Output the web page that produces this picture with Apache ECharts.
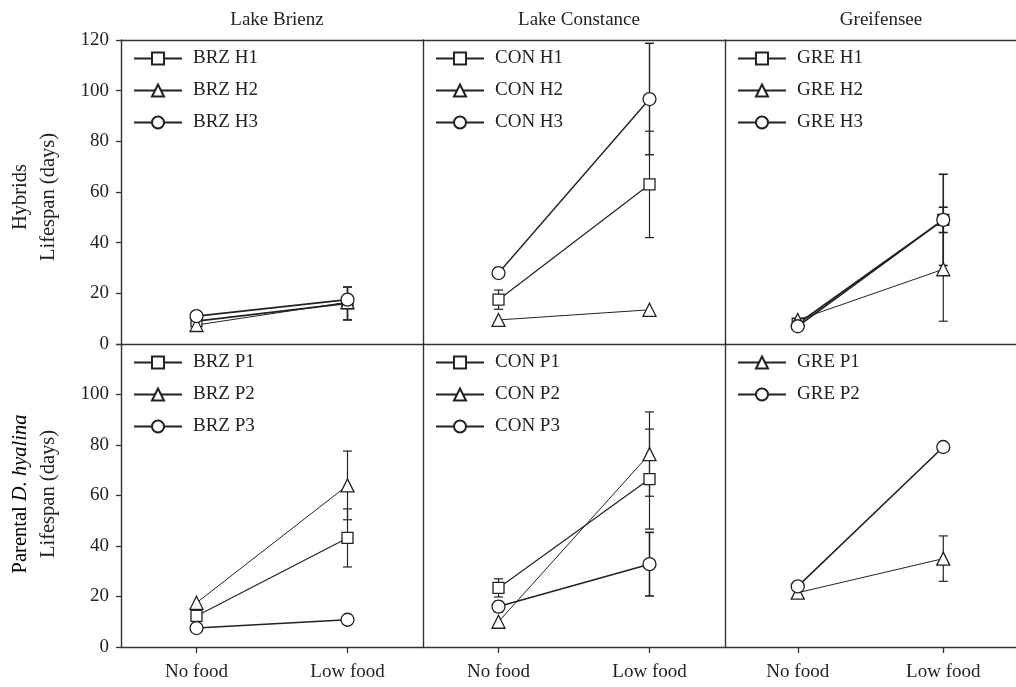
<!DOCTYPE html>
<html>
<head>
<meta charset="utf-8">
<script src="https://cdn.jsdelivr.net/npm/echarts@6/dist/echarts.min.js"></script>
<style>html,body{margin:0;padding:0;background:#fff;}#c{width:1016px;height:687px;}</style>
</head>
<body>
<div id="c"></div>
<script>
// ---- data ----
const categories = ['No food', 'Low food'];
const lakes = ['Lake Brienz', 'Lake Constance', 'Greifensee'];

// Hybrids (mean lifespan, days) and error (+/-)
const brzH1 = [9, 16],     brzH1Err = [1, 6.5];
const brzH2 = [7.5, 16.5], brzH2Err = [0, 0];
const brzH3 = [11, 17.5],  brzH3Err = [1, 0];
const conH1 = [17.5, 63],  conH1Err = [3.8, 21];
const conH2 = [9.5, 13.5], conH2Err = [0, 0];
const conH3 = [28, 96.7],  conH3Err = [2, 22];
const greH1 = [8, 49],     greH1Err = [0, 5];
const greH2 = [9.5, 29.5], greH2Err = [0, 20.5];
const greH3 = [7, 49],     greH3Err = [0, 18];
// Parental D. hyalina
const brzP1 = [12.3, 43.2], brzP1Err = [2, 11.5];
const brzP2 = [17.5, 64],   brzP2Err = [0, 13.6];
const brzP3 = [7.5, 10.8],  brzP3Err = [0, 0];
const conP1 = [23.4, 66.5], conP1Err = [3.6, 19.8];
const conP2 = [10, 76.4],   conP2Err = [0, 16.7];
const conP3 = [16, 32.8],   conP3Err = [2, 12.6];
const greP1 = [21.5, 35],   greP1Err = [0, 9];
const greP2 = [24, 79.2],   greP2Err = [0, 0];

// ---- panel composition ----
const panels = [
  [['BRZ H1', brzH1, brzH1Err, 'rect', 1.8], ['BRZ H2', brzH2, brzH2Err, 'triangle', 1], ['BRZ H3', brzH3, brzH3Err, 'circle', 1.8]],
  [['CON H1', conH1, conH1Err, 'rect', 1.2], ['CON H2', conH2, conH2Err, 'triangle', 1], ['CON H3', conH3, conH3Err, 'circle', 1.4]],
  [['GRE H1', greH1, greH1Err, 'rect', 1.6], ['GRE H2', greH2, greH2Err, 'triangle', 1], ['GRE H3', greH3, greH3Err, 'circle', 1.6]],
  [['BRZ P1', brzP1, brzP1Err, 'rect', 1.2], ['BRZ P2', brzP2, brzP2Err, 'triangle', 1], ['BRZ P3', brzP3, brzP3Err, 'circle', 1.6]],
  [['CON P1', conP1, conP1Err, 'rect', 1.2], ['CON P2', conP2, conP2Err, 'triangle', 1], ['CON P3', conP3, conP3Err, 'circle', 1.6]],
  [['GRE P1', greP1, greP1Err, 'triangle', 1], ['GRE P2', greP2, greP2Err, 'circle', 1.6]]
];

const FONT = 'Liberation Serif';
const INK = '#222';
const FRAME = { color: '#333', width: 1.4 };
const L0 = 121, W = 302;
const tops = [40, 344], heights = [304, 303];
const symSize = { rect: 11, triangle: 13, circle: 13 };

const grids = [], xAxes = [], yAxes = [], legends = [], series = [];

function errRender(lw) {
  return function (params, api) {
    const x = api.value(0), v = api.value(1), e = api.value(2);
    const p1 = api.coord([x, v + e]), p2 = api.coord([x, v - e]);
    const hw = 4.5;
    const st = { stroke: INK, lineWidth: lw };
    return { type: 'group', children: [
      { type: 'line', shape: { x1: p1[0], y1: p1[1], x2: p2[0], y2: p2[1] }, style: st },
      { type: 'line', shape: { x1: p1[0] - hw, y1: p1[1], x2: p1[0] + hw, y2: p1[1] }, style: st },
      { type: 'line', shape: { x1: p2[0] - hw, y1: p2[1], x2: p2[0] + hw, y2: p2[1] }, style: st }
    ]};
  };
}

for (let r = 0; r < 2; r++) {
  for (let c = 0; c < 3; c++) {
    const p = r * 3 + c;
    const left = L0 + W * c, top = tops[r];
    grids.push({ left: left, top: top, width: W, height: heights[r], show: false });
    xAxes.push({ type: 'category', gridIndex: p, data: categories, boundaryGap: true, position: 'bottom',
      axisLine: { show: true, onZero: false, lineStyle: FRAME },
      axisTick: { show: r === 1, alignWithLabel: true, length: 6, lineStyle: { color: '#333', width: 1.3 } },
      axisLabel: { show: r === 1, margin: 16, fontFamily: FONT, fontSize: 19, color: INK },
      splitLine: { show: false } });
    yAxes.push({ type: 'value', gridIndex: p, min: 0, max: 120, interval: 20, position: 'left',
      axisLine: { show: true, onZero: false, lineStyle: FRAME },
      axisTick: { show: c === 0, length: 5, lineStyle: { color: '#333', width: 1.3 } },
      axisLabel: { show: c === 0, margin: 12, fontFamily: FONT, fontSize: 19, color: INK,
        formatter: function (v) { return (r === 1 && v === 120) ? '' : String(v); } },
      splitLine: { show: false } });
    const defs = panels[p];
    legends.push({ orient: 'vertical', left: left + 12, top: top + 9, padding: 0,
      itemWidth: 48, itemHeight: 15, itemGap: 13, selectedMode: false,
      data: defs.map(d => d[0]),
      textStyle: { fontFamily: FONT, fontSize: 19, color: INK, padding: [0, 0, 0, 6] } });
    defs.forEach(function (d) {
      const [name, vals, errs, sym, lw] = d;
      const errData = [];
      errs.forEach(function (e, i) { if (e > 0) errData.push([i, vals[i], e]); });
      if (errData.length) {
        series.push({ type: 'custom', xAxisIndex: p, yAxisIndex: p, z: 1, silent: true,
          renderItem: errRender(Math.max(lw, 1.2)), data: errData });
      }
      series.push({ type: 'line', name: name, xAxisIndex: p, yAxisIndex: p, z: 3,
        data: vals, symbol: sym, symbolSize: symSize[sym], showAllSymbol: true,
        lineStyle: { color: INK, width: lw },
        itemStyle: { color: '#fff', borderColor: INK, borderWidth: 1.3 } });
    });
  }
}
// top frame line of upper row
for (let c = 0; c < 3; c++) {
  xAxes.push({ type: 'category', gridIndex: c, data: categories, position: 'top',
    axisLine: { show: true, onZero: false, lineStyle: FRAME },
    axisTick: { show: false }, axisLabel: { show: false }, splitLine: { show: false } });
}

const titles = lakes.map(function (t, c) {
  return { text: t, left: L0 + W * c + W / 2, top: 6, textAlign: 'center',
    textStyle: { fontFamily: FONT, fontSize: 19, fontWeight: 'normal', color: INK } };
});

const YT = '20.5px "Liberation Serif"';
const graphics = [
  { type: 'text', x: 21, y: 197, rotation: Math.PI / 2,
    style: { text: 'Hybrids', font: YT, fill: INK, align: 'center', verticalAlign: 'middle' } },
  { type: 'text', x: 49, y: 197, rotation: Math.PI / 2,
    style: { text: 'Lifespan (days)', font: YT, fill: INK, align: 'center', verticalAlign: 'middle' } },
  { type: 'text', x: 21, y: 494, rotation: Math.PI / 2,
    style: { text: '{a|Parental }{b|D. hyalina}', align: 'center', verticalAlign: 'middle',
      rich: { a: { fontFamily: FONT, fontSize: 20.5, color: INK }, b: { fontFamily: FONT, fontSize: 20.5, fontStyle: 'italic', color: INK } } } },
  { type: 'text', x: 49, y: 494, rotation: Math.PI / 2,
    style: { text: 'Lifespan (days)', font: YT, fill: INK, align: 'center', verticalAlign: 'middle' } }
];

const chart = echarts.init(document.getElementById('c'), null, { renderer: 'canvas' });
chart.setOption({
  animation: false,
  backgroundColor: '#fff',
  title: titles,
  grid: grids,
  xAxis: xAxes,
  yAxis: yAxes,
  legend: legends,
  graphic: graphics,
  series: series
});
</script>
</body>
</html>
